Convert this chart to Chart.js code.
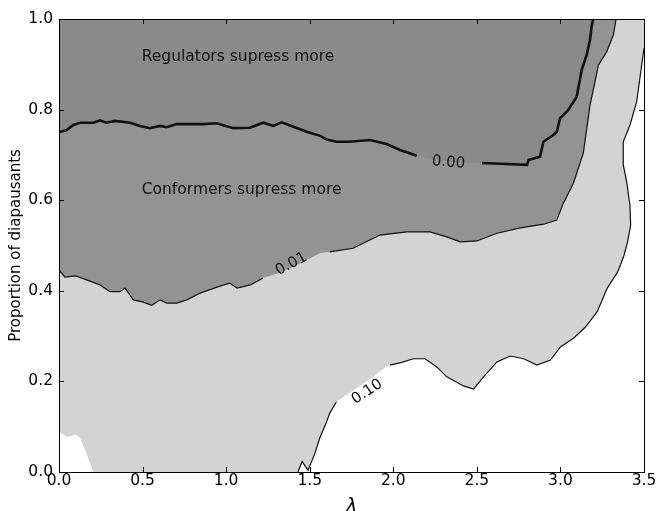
<!DOCTYPE html>
<html>
<head>
<meta charset="utf-8">
<script src="https://cdn.jsdelivr.net/npm/chart.js@4.4.0/dist/chart.umd.min.js"></script>
<style>
  html, body { margin: 0; padding: 0; background: #fff; }
</style>
</head>
<body>
<canvas id="c" width="657" height="511"></canvas>
<script>
// axis ticks
const xTicks = [0, 0.5, 1.0, 1.5, 2.0, 2.5, 3.0, 3.5];
const xTickLabels = ['0.0', '0.5', '1.0', '1.5', '2.0', '2.5', '3.0', '3.5'];
const yTicks = [0, 0.2, 0.4, 0.6, 0.8, 1.0];
const yTickLabels = ['0.0', '0.2', '0.4', '0.6', '0.8', '1.0'];

// contour 0.00 (thick line)
const lam00 = [0, 0.046, 0.086, 0.126, 0.205, 0.245, 0.285, 0.335, 0.425, 0.485, 0.544, 0.604, 0.644, 0.704, 0.784, 0.863, 0.943, 1.043, 1.143, 1.222, 1.282, 1.332, 1.402, 1.482, 1.562, 1.602, 1.661, 1.74, 1.86, 1.96, 2.04, 2.14, 2.22, 2.32, 2.42, 2.53, 2.80, 2.81, 2.878, 2.898, 2.958, 2.978, 2.998, 3.047, 3.097, 3.127, 3.157, 3.177, 3.187, 3.196];
const p00 = [0.750, 0.755, 0.766, 0.771, 0.771, 0.776, 0.771, 0.775, 0.771, 0.764, 0.759, 0.764, 0.761, 0.768, 0.768, 0.768, 0.770, 0.759, 0.760, 0.771, 0.764, 0.772, 0.762, 0.751, 0.742, 0.734, 0.729, 0.729, 0.733, 0.724, 0.711, 0.698, 0.692, 0.686, 0.683, 0.682, 0.678, 0.689, 0.696, 0.729, 0.744, 0.751, 0.781, 0.799, 0.828, 0.887, 0.921, 0.954, 0.985, 1.0];
const gap00 = [2.16, 2.51];

// contour 0.01
const lam01 = [0, 0.035, 0.10, 0.165, 0.245, 0.305, 0.365, 0.395, 0.445, 0.505, 0.555, 0.605, 0.645, 0.705, 0.765, 0.845, 0.945, 1.02, 1.065, 1.145, 1.22, 1.32, 1.44, 1.56, 1.62, 1.76, 1.92, 2.08, 2.22, 2.32, 2.40, 2.50, 2.62, 2.76, 2.90, 2.978, 3.017, 3.077, 3.137, 3.177, 3.207, 3.227, 3.277, 3.317, 3.333];
const p01 = [0.446, 0.430, 0.433, 0.424, 0.413, 0.398, 0.398, 0.406, 0.380, 0.375, 0.368, 0.380, 0.373, 0.373, 0.380, 0.395, 0.408, 0.417, 0.406, 0.413, 0.428, 0.440, 0.460, 0.483, 0.486, 0.494, 0.523, 0.530, 0.530, 0.519, 0.508, 0.510, 0.527, 0.539, 0.547, 0.556, 0.593, 0.637, 0.704, 0.810, 0.862, 0.898, 0.928, 0.965, 1.0];
const gap01 = [1.24, 1.57];

// contour 0.10
const lam10 = [1.43, 1.445, 1.455, 1.475, 1.49, 1.53, 1.56, 1.60, 1.62, 1.66, 1.72, 1.80, 1.88, 1.94, 1.98, 2.05, 2.12, 2.19, 2.26, 2.32, 2.42, 2.48, 2.54, 2.62, 2.70, 2.78, 2.86, 2.94, 3.00, 3.08, 3.15, 3.22, 3.28, 3.34, 3.36, 3.38, 3.40, 3.42, 3.416, 3.396, 3.376, 3.376, 3.416, 3.456, 3.496, 3.5];
const p10 = [0.0, 0.015, 0.023, 0.012, 0.004, 0.040, 0.075, 0.110, 0.130, 0.155, 0.170, 0.190, 0.210, 0.228, 0.236, 0.242, 0.250, 0.250, 0.232, 0.210, 0.190, 0.183, 0.210, 0.243, 0.256, 0.250, 0.236, 0.247, 0.276, 0.296, 0.320, 0.354, 0.406, 0.440, 0.458, 0.478, 0.505, 0.545, 0.589, 0.641, 0.678, 0.729, 0.766, 0.817, 0.925, 0.935];
const gap10 = [1.67, 1.96];

// white patch in the lower left corner (no line drawn there)
const lamCorner = [0, 0.05, 0.10, 0.125, 0.155, 0.185, 0.205];
const pCorner = [0.088, 0.077, 0.082, 0.075, 0.050, 0.020, 0.0];

const pts = (xs, ys) => xs.map((x, i) => ({ x: x, y: ys[i] }));
const gapped = (xs, ys, g) => xs.map((x, i) => ({ x: x, y: (x > g[0] && x < g[1]) ? null : ys[i] }));

const fillSet = (data, target, color, order) => ({
  data: data, fill: target, backgroundColor: color,
  borderColor: 'rgba(0,0,0,0)', borderWidth: 0, pointRadius: 0, order: order
});
const lineSet = (data, width, order) => ({
  data: data, fill: false, borderColor: '#111', borderWidth: width,
  pointRadius: 0, order: order, spanGaps: false
});

const FONT = 'DejaVu Sans';

const decor = {
  id: 'decor',
  beforeDraw(chart) {
    const { ctx, chartArea: a } = chart;
    ctx.save();
    ctx.fillStyle = '#d3d3d3';
    ctx.fillRect(a.left, a.top, a.right - a.left, a.bottom - a.top);
    ctx.restore();
  },
  afterDatasetsDraw(chart) {
    const { ctx, scales: { x, y } } = chart;
    ctx.save();
    ctx.fillStyle = '#111';
    ctx.font = '15.5px "' + FONT + '"';
    ctx.textAlign = 'left';
    ctx.textBaseline = 'middle';
    ctx.fillText('Regulators supress more', x.getPixelForValue(0.495), y.getPixelForValue(0.916));
    ctx.fillText('Conformers supress more', x.getPixelForValue(0.495), y.getPixelForValue(0.622));
    const lbl = (t, lx, ly, deg) => {
      ctx.save();
      ctx.translate(x.getPixelForValue(lx), y.getPixelForValue(ly));
      ctx.rotate(deg * Math.PI / 180);
      ctx.textAlign = 'center';
      ctx.fillText(t, 0, 0);
      ctx.restore();
    };
    ctx.font = '15px "' + FONT + '"';
    lbl('0.00', 2.33, 0.683, 5);
    lbl('0.01', 1.39, 0.459, -28);
    lbl('0.10', 1.843, 0.177, -33);
    ctx.restore();
  },
  afterDraw(chart) {
    const { ctx, chartArea: a, scales: { x, y } } = chart;
    ctx.save();
    ctx.strokeStyle = '#000';
    ctx.lineWidth = 1;
    ctx.beginPath();
    xTicks.forEach(v => {
      const px = Math.round(x.getPixelForValue(v)) + 0.5;
      ctx.moveTo(px, a.bottom); ctx.lineTo(px, a.bottom - 5);
      ctx.moveTo(px, a.top); ctx.lineTo(px, a.top + 5);
    });
    yTicks.forEach(v => {
      const py = Math.round(y.getPixelForValue(v)) + 0.5;
      ctx.moveTo(a.left, py); ctx.lineTo(a.left + 5, py);
      ctx.moveTo(a.right, py); ctx.lineTo(a.right - 5, py);
    });
    ctx.stroke();
    ctx.strokeRect(Math.round(a.left) + 0.5, Math.round(a.top) + 0.5,
      Math.round(a.right - a.left), Math.round(a.bottom - a.top));
    ctx.restore();
  }
};

new Chart(document.getElementById('c').getContext('2d'), {
  type: 'line',
  data: {
    datasets: [
      lineSet(gapped(lam00, p00, gap00), 2.6, 1),
      lineSet(gapped(lam01, p01, gap01), 1.2, 2),
      lineSet(gapped(lam10, p10, gap10), 1.2, 3),
      fillSet(pts(lamCorner, pCorner), 'start', '#ffffff', 7),
      fillSet(pts(lam10, p10), 'start', '#ffffff', 8),
      fillSet(pts(lam00, p00), 'end', '#8a8a8a', 9),
      fillSet(pts(lam01, p01), 'end', '#939393', 10)
    ]
  },
  options: {
    responsive: false,
    animation: false,
    events: [],
    layout: { padding: { top: 19, right: 13, left: 0, bottom: 0 } },
    plugins: { legend: { display: false }, tooltip: { enabled: false } },
    elements: { line: { tension: 0 }, point: { radius: 0 } },
    scales: {
      x: {
        type: 'linear', min: 0, max: 3.5,
        afterBuildTicks: s => { s.ticks = xTicks.map(v => ({ value: v })); },
        ticks: {
          callback: (v, i) => xTickLabels[i],
          font: { family: FONT, size: 15.5 }, color: '#000', padding: 0,
          maxRotation: 0, autoSkip: false
        },
        grid: { display: false, drawTicks: false },
        border: { display: false },
        title: {
          display: true, text: 'λ', color: '#000',
          font: { family: FONT, size: 19, style: 'italic' },
          padding: { top: 0, bottom: -7 }
        },
        afterFit: s => { s.height = 39; }
      },
      y: {
        type: 'linear', min: 0, max: 1,
        afterBuildTicks: s => { s.ticks = yTicks.map(v => ({ value: v })); },
        ticks: {
          callback: (v, i) => yTickLabels[i],
          font: { family: FONT, size: 15.5 }, color: '#000', padding: 6
        },
        grid: { display: false, drawTicks: false },
        border: { display: false },
        title: {
          display: true, text: 'Proportion of diapausants', color: '#000',
          font: { family: FONT, size: 15 },
          padding: { top: 7, bottom: 0 }
        },
        afterFit: s => { s.width = 59; }
      }
    }
  },
  plugins: [decor]
});
</script>
</body>
</html>
